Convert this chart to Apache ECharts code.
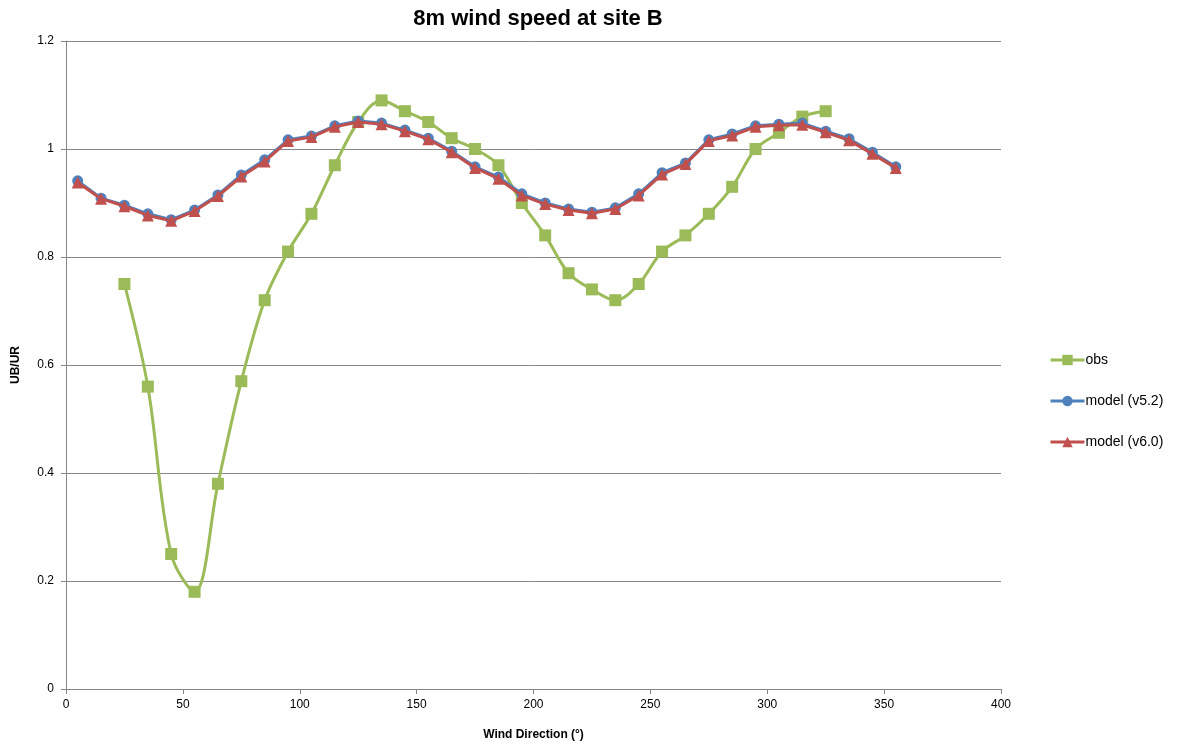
<!DOCTYPE html>
<html><head><meta charset="utf-8">
<script src="https://cdn.jsdelivr.net/npm/echarts@6/dist/echarts.min.js"></script>
<style>html,body{margin:0;padding:0;background:#fff}#c{width:1177px;height:752px}</style>
</head><body><div id="c"></div>
<script>
const obsDir = [25,35,45,55,65,75,85,95,105,115,125,135,145,155,165,175,185,195,205,215,225,235,245,255,265,275,285,295,305,315,325];
const obsVal = [0.75,0.56,0.25,0.18,0.38,0.57,0.72,0.81,0.88,0.97,1.05,1.09,1.07,1.05,1.02,1.00,0.97,0.90,0.84,0.77,0.74,0.72,0.75,0.81,0.84,0.88,0.93,1.00,1.03,1.06,1.07];
const modelDir = [5,15,25,35,45,55,65,75,85,95,105,115,125,135,145,155,165,175,185,195,205,215,225,235,245,255,265,275,285,295,305,315,325,335,345,355];
const v52 = [0.941,0.909,0.896,0.880,0.869,0.887,0.915,0.952,0.980,1.017,1.024,1.043,1.052,1.048,1.035,1.020,0.996,0.967,0.948,0.917,0.900,0.889,0.883,0.891,0.917,0.956,0.974,1.017,1.028,1.043,1.046,1.048,1.033,1.019,0.994,0.967];
const v60 = [0.938,0.908,0.894,0.877,0.867,0.885,0.913,0.949,0.977,1.015,1.022,1.041,1.050,1.046,1.033,1.018,0.994,0.965,0.945,0.914,0.898,0.887,0.881,0.889,0.914,0.953,0.972,1.015,1.025,1.041,1.044,1.045,1.031,1.016,0.991,0.965];
const xTicks = {min:0,max:400,interval:50};
const yTicks = {min:0,max:1.2,interval:0.2};

const pair = (xs, ys) => xs.map((x,i)=>[x, ys[i]]);
const font = 'Liberation Sans';
const chart = echarts.init(document.getElementById('c'));
chart.setOption({
  animation:false,
  backgroundColor:'#fff',
  textStyle:{fontFamily:font},
  title:{text:'8m wind speed at site B',left:533,textAlign:'center',top:3,
    textStyle:{fontFamily:font,fontSize:22,fontWeight:'bold',color:'#000'}},
  grid:{left:66,right:176,top:41,bottom:63,containLabel:false},
  legend:{orient:'vertical',left:1044,top:348,itemGap:27,itemWidth:34,itemHeight:13,
    lineStyle:{width:3},
    textStyle:{fontFamily:font,fontSize:14,color:'#000',padding:[0,0,0,-4]},
    data:['obs','model (v5.2)','model (v6.0)']},
  xAxis:{type:'value',min:xTicks.min,max:xTicks.max,interval:xTicks.interval,
    name:'Wind Direction (°)',nameLocation:'middle',nameGap:40,
    nameTextStyle:{fontFamily:font,fontSize:12,fontWeight:'bold',color:'#000'},
    axisLine:{show:true,lineStyle:{color:'#868686',width:1}},
    axisTick:{show:true,inside:false,length:5,lineStyle:{color:'#868686'}},
    axisLabel:{color:'#000',fontSize:12,margin:10,fontFamily:font},
    splitLine:{show:false}},
  yAxis:{type:'value',min:yTicks.min,max:yTicks.max,interval:yTicks.interval,
    name:'UB/UR',nameLocation:'middle',nameGap:44,nameRotate:90,
    nameTextStyle:{fontFamily:font,fontSize:12,fontWeight:'bold',color:'#000'},
    axisLine:{show:true,lineStyle:{color:'#868686',width:1}},
    axisTick:{show:true,inside:false,length:5,lineStyle:{color:'#868686'}},
    axisLabel:{color:'#000',fontSize:12,margin:12,fontFamily:font},
    splitLine:{show:true,lineStyle:{color:'#868686',width:1}}},
  series:[
    {name:'obs',type:'line',data:pair(obsDir,obsVal),smooth:0.35,
      symbol:'rect',symbolSize:12,color:'#9BBB59',
      lineStyle:{width:3,color:'#9BBB59'},itemStyle:{color:'#9BBB59'},z:2},
    {name:'model (v5.2)',type:'line',data:pair(modelDir,v52),
      symbol:'circle',symbolSize:11,color:'#4F81BD',
      lineStyle:{width:3,color:'#4F81BD'},itemStyle:{color:'#4F81BD'},z:3},
    {name:'model (v6.0)',type:'line',data:pair(modelDir,v60),
      symbol:'triangle',symbolSize:12,color:'#C0504D',
      lineStyle:{width:3,color:'#C0504D'},itemStyle:{color:'#C0504D'},z:4}
  ]
});
</script></body></html>
